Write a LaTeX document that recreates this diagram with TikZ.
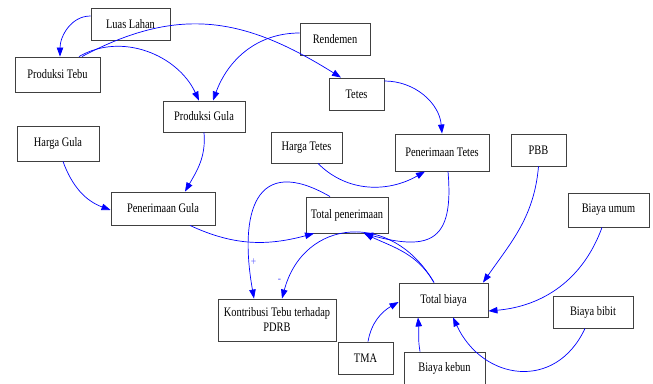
\documentclass[tikz,border=0pt]{standalone}
\usepackage{fontspec}
\setmainfont{Liberation Serif}[FakeStretch=0.8]
\usetikzlibrary{arrows.meta}
\begin{document}
\begin{tikzpicture}[x=1pt,y=-1pt,
  box/.style={draw=black!75,line width=0.9pt,inner sep=1pt,align=center,font=\fontsize{13}{15}\selectfont},
  link/.style={draw=blue,line width=0.7pt,-{Triangle[length=9pt,width=6.5pt]}},
  sign/.style={text=blue!65,inner sep=1pt,font=\fontsize{12}{12}\selectfont}]
\useasboundingbox (0,0) rectangle (653,383);
\node[box, minimum width=79pt, minimum height=32pt] (1) at (130.5,24) {Luas Lahan};
\node[box, minimum width=85pt, minimum height=35pt] (2) at (57.5,74.5) {Produksi Tebu};
\node[box, minimum width=70pt, minimum height=32pt] (3) at (335,39) {Rendemen};
\node[box, minimum width=82pt, minimum height=31pt] (4) at (204,116.5) {Produksi Gula};
\node[box, minimum width=55pt, minimum height=32pt] (5) at (356.5,94) {Tetes};
\node[box, minimum width=82pt, minimum height=35pt] (6) at (58,143.5) {Harga Gula};
\node[box, minimum width=71pt, minimum height=31pt] (7) at (306.5,147.5) {Harga Tetes};
\node[box, minimum width=94pt, minimum height=37pt] (8) at (442,152.5) {Penerimaan Tetes};
\node[box, minimum width=55pt, minimum height=32pt] (9) at (538.5,150) {PBB};
\node[box, minimum width=104pt, minimum height=33pt] (10) at (163,208.5) {Penerimaan Gula};
\node[box, minimum width=82pt, minimum height=36pt] (11) at (347,215) {Total penerimaan};
\node[box, minimum width=81pt, minimum height=34pt] (12) at (608.5,210) {Biaya umum};
\node[box, minimum width=118pt, minimum height=42pt] (13) at (277,320) {Kontribusi Tebu terhadap\\PDRB};
\node[box, minimum width=89pt, minimum height=34pt] (14) at (443.5,300) {Total biaya};
\node[box, minimum width=80pt, minimum height=32pt] (15) at (593,312) {Biaya bibit};
\node[box, minimum width=55pt, minimum height=32pt] (16) at (365.5,358) {TMA};
\node[box, minimum width=81pt, minimum height=32pt] (17) at (444.5,368) {Biaya kebun};
\path[link] ([yshift=8pt]1.west) to[out=180,in=90] ([xshift=2.5pt]2.north);
\path[link] ([xshift=21.5pt]2.north) to[out=30,in=115] ([xshift=-5pt]4.north);
\path[link] ([xshift=24.5pt]2.north) to[out=28,in=148,looseness=1.1] ([xshift=-15.5pt]5.north);
\path[link] ([yshift=6pt]3.west) to[out=180,in=70] ([xshift=9pt]4.north);
\path[link] (4.south) to[out=-85,in=60] ([xshift=22pt]10.north);
\path[link] ([xshift=5pt]6.south) to[out=-70,in=160] ([yshift=-1.5pt]10.west);
\path[link] ([yshift=13pt]5.east) to[out=0,in=95] (8.north);
\path[link] ([xshift=11.5pt]7.south) to[out=-45,in=-150] ([xshift=-17pt]8.south);
\path[link] ([xshift=27pt]10.south) to[out=-25,in=-165] ([xshift=-33pt]11.south);
\path[link] ([xshift=6pt]8.south) to[out=-85,in=-15,looseness=1.7] ([xshift=17pt]11.south);
\path[link] ([xshift=-9.5pt]14.north) to[out=120,in=-25] ([xshift=17pt]11.south);
\path[link] ([xshift=-17pt]11.north) to[out=150,in=100,looseness=1.75] node[sign, pos=0.85, right] {+} ([xshift=-23pt]13.north);
\path[link] ([xshift=-9.5pt]14.north) to[out=120,in=75,looseness=1.4] node[sign, pos=0.92, left=6pt] {-} ([xshift=5pt]13.north);
\path[link] (9.south) to[out=-95,in=55] ([xshift=39.5pt]14.north);
\path[link] ([xshift=-6.5pt]12.south) to[out=-110,in=5] ([yshift=-11pt]14.east);
\path[link] ([xshift=-8pt]15.south) to[out=-115,in=-65,looseness=1.35] ([xshift=9.5pt]14.south);
\path[link] ([xshift=-24.5pt]17.north) to[out=100,in=-85] ([xshift=-25.5pt]14.south);
\path[link] ([xshift=2.5pt]16.north) to[out=80,in=210] ([yshift=-2pt]14.west);
\end{tikzpicture}
\end{document}
